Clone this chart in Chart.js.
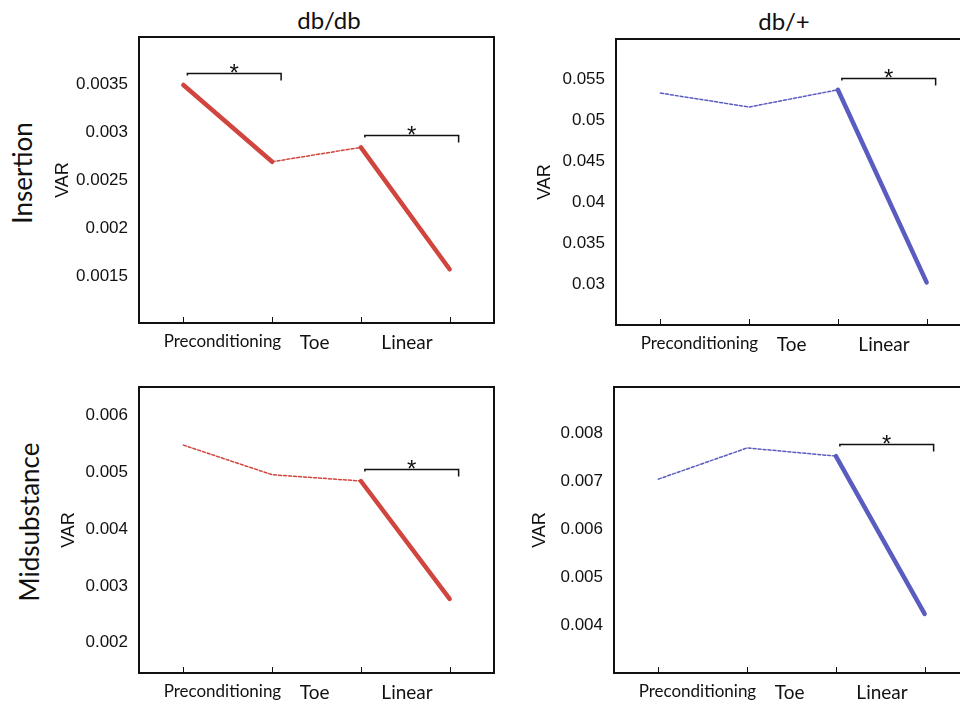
<!DOCTYPE html>
<html lang="en">
  <head>
    <meta charset="UTF-8">
    <script src="https://cdn.jsdelivr.net/npm/chart.js"></script>
    <style>
      body { margin: 0; width: 960px; height: 704px; overflow: hidden; background: #fff; position: relative; }
      .panel { position: absolute; }
      .txt { position: absolute; color: #111; white-space: nowrap; }
      .col { font-family: Lato, "Open Sans", sans-serif; font-size: 24px; transform: translateX(-50%); }
      .row { font-family: Lato, "Open Sans", sans-serif; font-size: 26px; transform: translate(-50%, -50%) rotate(-90deg); }
    </style>
  </head>
  <body>
    <div class="txt col" style="left:329px; top:5px;">db/db</div>
    <div class="txt col" style="left:784px; top:6px;">db/+</div>
    <div class="txt row" style="left:22px; top:173px;">Insertion</div>
    <div class="txt row" style="left:29px; top:522px;">Midsubstance</div>

    <div class="panel" id="p1"><canvas id="c1"></canvas></div>
    <div class="panel" id="p2"><canvas id="c2"></canvas></div>
    <div class="panel" id="p3"><canvas id="c3"></canvas></div>
    <div class="panel" id="p4"><canvas id="c4"></canvas></div>

    <script>
      // phases (points) and the labels shown between them
      const phases = ['Start', 'Preconditioning end', 'Toe end', 'Linear end'];
      const phaseLabels = ['Preconditioning', 'Toe', 'Linear'];

      // VAR values
      const dbdbInsertion = [0.00349, 0.00269, 0.00284, 0.00157];
      const dbplusInsertion = [0.0533, 0.0516, 0.0537, 0.0302];
      const dbdbMidsubstance = [0.00547, 0.00495, 0.00484, 0.00277];
      const dbplusMidsubstance = [0.00704, 0.00769, 0.00752, 0.00423];

      // significant change per phase (1 = *, thick solid line)
      const sigDbdbInsertion = [1, 0, 1];
      const sigDbplusInsertion = [0, 0, 1];
      const sigDbdbMidsubstance = [0, 0, 1];
      const sigDbplusMidsubstance = [0, 0, 1];

      // y tick labels
      const ticksDbdbInsertion = [0.0015, 0.002, 0.0025, 0.003, 0.0035];
      const ticksDbplusInsertion = [0.03, 0.035, 0.04, 0.045, 0.05, 0.055];
      const ticksDbdbMidsubstance = [0.002, 0.003, 0.004, 0.005, 0.006];
      const ticksDbplusMidsubstance = [0.004, 0.005, 0.006, 0.007, 0.008];

      const RED = '#d0453e';
      const BLUE = '#5a5cc0';
      const labelPos = [0.44, 1.48, 2.52];

      // frame, inward x ticks, significance brackets
      const decorations = {
        id: 'decorations',
        afterDatasetsDraw(chart, args, opts) {
          const { ctx, chartArea: a, scales: { x, y } } = chart;
          ctx.save();
          ctx.strokeStyle = '#111';
          ctx.lineWidth = 2;
          ctx.strokeRect(a.left, a.top, a.right - a.left, a.bottom - a.top);
          ctx.lineWidth = 1;
          for (let i = 0; i < phases.length; i++) {
            const px = Math.round(x.getPixelForValue(i)) + 0.5;
            ctx.beginPath();
            ctx.moveTo(px, a.bottom);
            ctx.lineTo(px, a.bottom - 6);
            ctx.stroke();
          }
          const data = chart.data.datasets[0].data;
          for (let i = 0; i < phaseLabels.length; i++) {
            if (!opts.sig[i]) continue;
            const x0 = x.getPixelForValue(i) + 4;
            const x1 = x.getPixelForValue(i + 1) + 9;
            const top = Math.min(y.getPixelForValue(data[i].y), y.getPixelForValue(data[i + 1].y));
            const by = Math.round(top - 12) + 0.5;
            ctx.lineWidth = 1.5;
            ctx.beginPath();
            ctx.moveTo(x0, by + 2);
            ctx.lineTo(x0, by);
            ctx.lineTo(x1, by);
            ctx.lineTo(x1, by + 7);
            ctx.stroke();
            ctx.fillStyle = '#111';
            ctx.font = '24px "Liberation Sans", Arial, sans-serif';
            ctx.textAlign = 'center';
            ctx.textBaseline = 'alphabetic';
            ctx.fillText('*', (x0 + x1) / 2, by + 7);
          }
          ctx.restore();
        }
      };

      function noPad(s) {
        s.paddingTop = 0; s.paddingBottom = 0; s.paddingLeft = 0; s.paddingRight = 0;
      }

      function makePanel(n, box, values, sig, ticks, color) {
        const padL = 110, padT = 10, padR = 10, axisH = 45;
        const div = document.getElementById('p' + n);
        div.style.left = (box.left - padL) + 'px';
        div.style.top = (box.top - padT) + 'px';
        div.style.width = (box.right - box.left + padL + padR) + 'px';
        div.style.height = (box.bottom - box.top + padT + axisH) + 'px';

        return new Chart(document.getElementById('c' + n), {
          type: 'line',
          data: {
            labels: phases,
            datasets: [{
              data: values.map((v, i) => ({ x: i, y: v })),
              borderColor: color,
              borderWidth: 1.5,
              pointRadius: 0,
              borderCapStyle: 'round',
              segment: {
                borderWidth: c => sig[c.p0DataIndex] ? 4.5 : 1.5,
                borderDash: c => sig[c.p0DataIndex] ? [] : [3, 2]
              }
            }]
          },
          options: {
            responsive: true,
            maintainAspectRatio: false,
            animation: false,
            layout: { padding: { top: padT, right: padR, left: 0, bottom: 0 } },
            plugins: {
              legend: { display: false },
              tooltip: { enabled: false },
              decorations: { sig }
            },
            scales: {
              x: {
                type: 'linear',
                min: -0.5,
                max: 3.5,
                grid: { display: false, drawTicks: false },
                border: { display: false },
                afterBuildTicks: s => { s.ticks = labelPos.map(v => ({ value: v })); },
                afterFit: s => { s.height = axisH; noPad(s); },
                ticks: {
                  autoSkip: false,
                  maxRotation: 0,
                  padding: 8,
                  color: '#111',
                  font: c => ({ family: 'Lato, "Open Sans", sans-serif', size: c.index === 0 ? 17 : 19 }),
                  callback: (v, i) => phaseLabels[i]
                }
              },
              y: {
                min: box.min,
                max: box.max,
                grid: { display: false, drawTicks: false },
                border: { display: false },
                afterBuildTicks: s => { s.ticks = ticks.map(v => ({ value: v })); },
                afterFit: s => { s.width = padL; noPad(s); },
                title: {
                  display: true,
                  text: 'VAR',
                  color: '#111',
                  padding: { top: box.titlePad, bottom: 0 },
                  font: { family: '"Liberation Sans", Arial, sans-serif', size: 18 }
                },
                ticks: {
                  padding: 11,
                  color: '#111',
                  font: { family: '"Liberation Sans", Arial, sans-serif', size: 17 },
                  callback: v => String(v)
                }
              }
            }
          },
          plugins: [decorations]
        });
      }

      makePanel(1, { left: 139, top: 37, right: 494, bottom: 323, min: 0.00101, max: 0.00399, titlePad: 23 },
        dbdbInsertion, sigDbdbInsertion, ticksDbdbInsertion, RED);
      makePanel(2, { left: 616, top: 39, right: 971, bottom: 325, min: 0.025, max: 0.0599, titlePad: 28 },
        dbplusInsertion, sigDbplusInsertion, ticksDbplusInsertion, BLUE);
      makePanel(3, { left: 139, top: 387, right: 494, bottom: 673, min: 0.00147, max: 0.00649, titlePad: 29 },
        dbdbMidsubstance, sigDbdbMidsubstance, ticksDbdbMidsubstance, RED);
      makePanel(4, { left: 614, top: 387, right: 969, bottom: 673, min: 0.003, max: 0.00896, titlePad: 25 },
        dbplusMidsubstance, sigDbplusMidsubstance, ticksDbplusMidsubstance, BLUE);
    </script>
  </body>
</html>
